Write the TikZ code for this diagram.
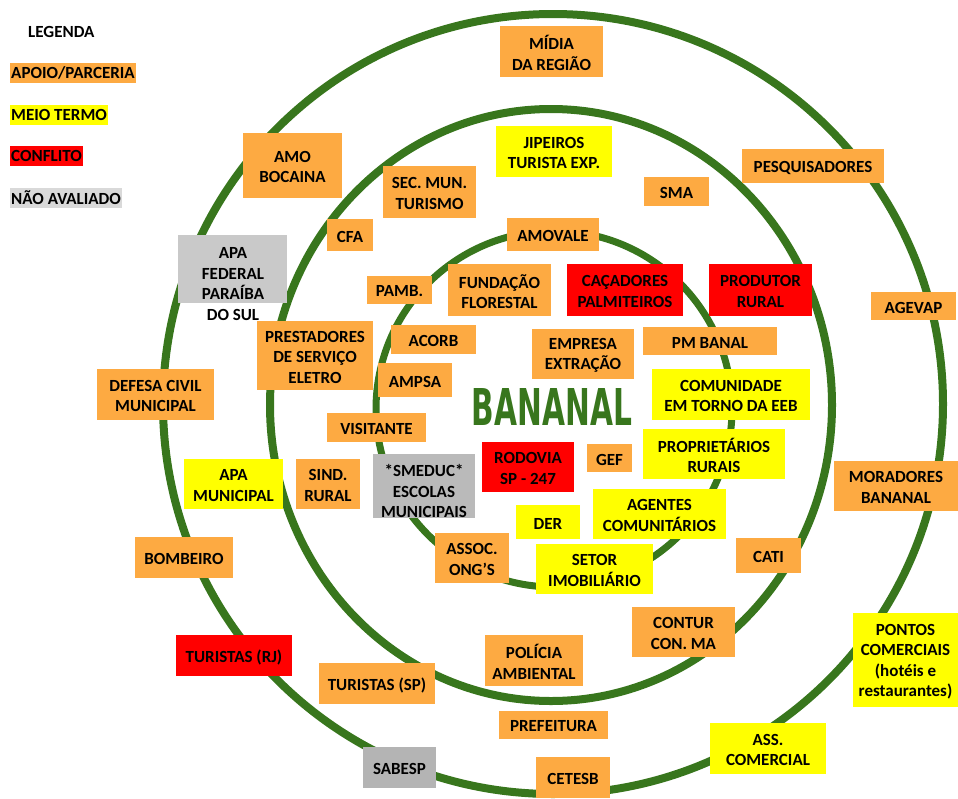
\documentclass[tikz,border=0pt]{standalone}
\usepackage{fontspec}
\setmainfont{Carlito}
\newfontfamily\bigfont{DejaVu Sans}
\definecolor{orng}{RGB}{253,170,66}
\definecolor{yel}{RGB}{255,255,0}
\definecolor{rd}{RGB}{255,0,0}
\definecolor{grA}{RGB}{217,217,217}
\definecolor{grB}{RGB}{201,201,201}
\definecolor{grC}{RGB}{186,186,186}
\definecolor{grD}{RGB}{180,180,180}
\definecolor{ringgreen}{RGB}{56,118,29}
\newcommand\mybox[7]{\fill[#6] (#2,#3) rectangle (#4,#5);
  \node (#1) at ({(#2+#4)/2},{(#3+#5)/2+1.5}) {#7};}
\tikzset{
  every node/.style={font=\fontsize{17}{20.5}\selectfont\bfseries, text=black, inner sep=0pt, align=center},
  ob/.style={fill=orng},
  yb/.style={fill=yel},
  rb/.style={fill=rd},
  gb/.style={fill=grB},
  gc/.style={fill=grC},
  gd/.style={fill=grD},
  leg/.style={anchor=west, inner xsep=1pt, minimum height=20, align=left},
  ring/.style={draw=ringgreen, line width=8pt},
}
\begin{document}
\begin{tikzpicture}[x=1pt,y=-1pt]
\useasboundingbox (0,0) rectangle (958,798);
% rings
\draw[ring] (553,404) circle [radius=390];
\draw[ring] (551,405) circle [x radius=281, y radius=296];
\draw[ring, line width=7pt] (554,409) circle [radius=178];
% legend
\node[leg] (legt) at (27,32) {LEGENDA};
\node[leg, fill=orng] (lg1) at (10,73) {APOIO/PARCERIA};
\node[leg, fill=yel] (lg2) at (10,115) {MEIO TERMO};
\node[leg, fill=rd] (lg3) at (10,156) {CONFLITO};
\node[leg, fill=grA] (lg4) at (10,198) {NÃO AVALIADO};
% boxes
\mybox{midia}{500}{26}{603}{77}{ob}{MÍDIA\\DA REGIÃO}
\mybox{amob}{243}{133}{342}{198}{ob}{AMO\\BOCAINA}
\mybox{jip}{496}{126}{612}{177}{yb}{JIPEIROS\\TURISTA EXP.}
\mybox{sec}{383}{166}{476}{218}{ob}{SEC. MUN.\\TURISMO}
\mybox{sma}{644}{177}{709}{206}{ob}{SMA}
\mybox{pesq}{742}{149}{884}{183}{ob}{PESQUISADORES}
\mybox{cfa}{327}{219}{373}{251}{ob}{CFA}
\mybox{amov}{507}{218}{599}{251}{ob}{AMOVALE}
\fill[gb] (178,235) rectangle (287,303);
\node (apaft) at (233,284) {APA\\FEDERAL\\PARAÍBA\\DO SUL};
\mybox{pamb}{367}{276}{432}{304}{ob}{PAMB.}
\mybox{fund}{448}{264}{551}{316}{ob}{FUNDAÇÃO\\FLORESTAL}
\mybox{cac}{567}{264}{683}{316}{rb}{CAÇADORES\\PALMITEIROS}
\mybox{prod}{709}{264}{812}{316}{rb}{PRODUTOR\\RURAL}
\mybox{agev}{871}{292}{956}{320}{ob}{AGEVAP}
\mybox{prest}{257}{321}{373}{390}{ob}{PRESTADORES\\DE SERVIÇO\\ELETRO}
\mybox{acorb}{391}{325}{476}{354}{ob}{ACORB}
\mybox{ampsa}{378}{363}{452}{397}{ob}{AMPSA}
\mybox{emp}{532}{329}{634}{379}{ob}{EMPRESA\\EXTRAÇÃO}
\mybox{pmb}{643}{327}{777}{355}{ob}{PM BANAL}
\mybox{com}{652}{369}{810}{420}{yb}{COMUNIDADE\\EM TORNO DA EEB}
\mybox{def}{97}{369}{214}{420}{ob}{DEFESA CIVIL\\MUNICIPAL}
\node (banan) at (552,406.5) {\color{ringgreen}\resizebox{160pt}{37pt}{\bigfont\bfseries BANANAL}};
\mybox{vis}{327}{413}{426}{442}{ob}{VISITANTE}
\mybox{apam}{184}{459}{283}{509}{yb}{APA\\MUNICIPAL}
\mybox{sind}{296}{459}{360}{509}{ob}{SIND.\\RURAL}
\fill[gc] (373,454) rectangle (475,518);
\node (smedt) at (424,491) {*SMEDUC*\\ESCOLAS\\MUNICIPAIS};
\mybox{rod}{482}{442}{574}{492}{rb}{RODOVIA\\SP - 247}
\mybox{gef}{587}{444}{632}{472}{ob}{GEF}
\mybox{prop}{643}{429}{785}{479}{yb}{PROPRIETÁRIOS\\RURAIS}
\mybox{mor}{834}{461}{958}{511}{ob}{MORADORES\\BANANAL}
\mybox{der}{516}{505}{580}{539}{yb}{DER}
\mybox{agen}{593}{489}{726}{539}{yb}{AGENTES\\COMUNITÁRIOS}
\mybox{bomb}{135}{537}{233}{578}{ob}{BOMBEIRO}
\mybox{assoc}{435}{533}{509}{583}{ob}{ASSOC.\\ONG’S}
\mybox{setor}{536}{544}{653}{594}{yb}{SETOR\\IMOBILIÁRIO}
\mybox{cati}{736}{538}{801}{573}{ob}{CATI}
\mybox{contur}{632}{607}{735}{657}{ob}{CONTUR\\CON. MA}
\mybox{pontos}{853}{613}{958}{707}{yb}{PONTOS\\COMERCIAIS\\(hotéis e\\restaurantes)}
\mybox{turrj}{176}{635}{292}{676}{rb}{TURISTAS (RJ)}
\mybox{pol}{485}{635}{583}{686}{ob}{POLÍCIA\\AMBIENTAL}
\mybox{tursp}{319}{663}{435}{704}{ob}{TURISTAS (SP)}
\mybox{pref}{499}{711}{608}{739}{ob}{PREFEITURA}
\mybox{assc}{710}{723}{826}{774}{yb}{ASS.\\COMERCIAL}
\mybox{sab}{363}{747}{436}{788}{gd}{SABESP}
\mybox{cet}{536}{757}{610}{798}{ob}{CETESB}
\end{tikzpicture}
\end{document}
